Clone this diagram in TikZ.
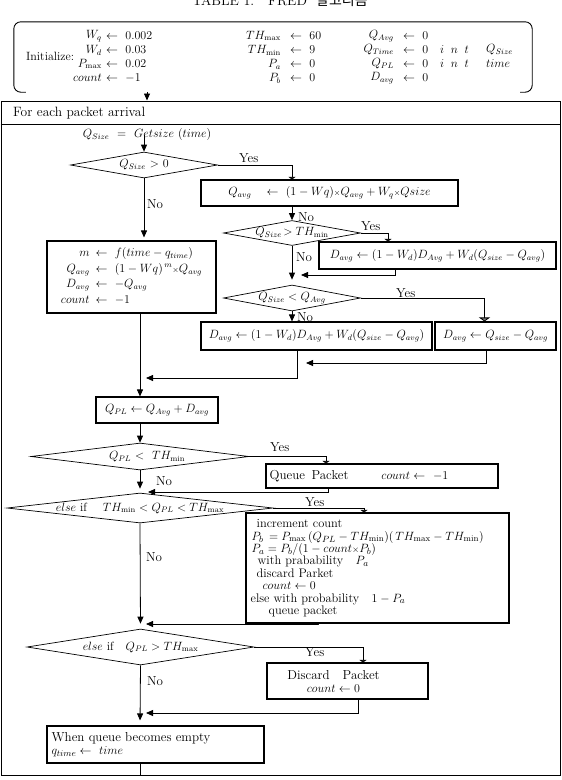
\documentclass[tikz,border=0pt]{standalone}
\usepackage{fontspec}
\newfontfamily\krfont{Noto Sans CJK KR}
\usetikzlibrary{shapes.geometric,arrows.meta}
\newcommand{\flowlabel}[3]{\node[lbl] (#1) at (#2) {#3};}
\newcommand{\smalltimes}{{\scriptstyle\times}}
\tikzset{
  box/.style={draw,line width=1.1pt,inner sep=2pt},
  decision/.style={draw,diamond,line width=0.7pt,inner sep=0pt},
  flow/.style={line width=0.8pt,-{Triangle[length=7pt,width=6pt]}},
  yesflow/.style={line width=0.8pt,-{Triangle[length=2.5pt,width=7pt]}},
  cell/.style={inner sep=0pt,anchor=west},
  lbl/.style={cell,font=\fontsize{13}{13}\selectfont},
}
\begin{document}
\begin{tikzpicture}[x=1pt,y=-1pt,font=\fontsize{12}{12}\selectfont]
\useasboundingbox (0,0) rectangle (562,780);
\node[anchor=base,font=\fontsize{14}{14}\selectfont] (title) at (280,5) {TABLE\ 1.\quad FRED\ \ {\krfont 알고리즘}};
\node[inner sep=0pt,minimum width=518pt,minimum height=70pt] (init) at (273,57) {};
\draw[line width=0.9pt,rounded corners=7pt] ([xshift=12pt]init.south west) -- (init.south west) -- (init.north west) -- (init.north east) -- (init.south east) -- ([xshift=-12pt]init.south east);
\node[cell] (initlbl) at (26,56) {Initialize:};
\foreach \nm/\val/\yy [count=\i] in {W_q/0.002/36,W_d/0.03/50,P_{\mathrm{max}}/0.02/64,count/-1/78}{
  \node[cell,anchor=east] (ca\i) at (102,\yy) {$\nm$};
  \node[cell] (cb\i) at (106,\yy) {$\leftarrow\ \val$};}
\foreach \nm/\val/\yy [count=\i] in {TH_{\mathrm{max}}/60/36,TH_{\mathrm{min}}/9/50,P_a/0/64,P_b/0/78}{
  \node[cell,anchor=east] (cc\i) at (281,\yy) {$\nm$};
  \node[cell] (cd\i) at (290,\yy) {$\leftarrow\ \val$};}
\foreach \nm/\val/\yy [count=\i] in {Q_{Avg}/0/36,Q_{Time}/0/50,Q_{PL}/0/64,D_{avg}/0/78}{
  \node[cell,anchor=east] (ce\i) at (394,\yy) {$\nm$};
  \node[cell] (cf\i) at (403,\yy) {$\leftarrow\ \val$};}
\foreach \nm/\yy [count=\i] in {Q_{Size}/50,time/64}{
  \node[cell] (cg\i) at (440,\yy) {$i\;\;n\;\;t$};
  \node[cell] (ch\i) at (486,\yy) {$\nm$};}
\node[draw,line width=1pt,minimum width=559pt,minimum height=674pt,inner sep=0pt] (outer) at (280.5,438) {};
\node[lbl,font=\fontsize{13.5}{13.5}\selectfont] (hdr) at (13,113) {For\ each\ packet\ arrival};
\draw[line width=0.8pt] (outer.west |- 0,124) -- (outer.east |- 0,124);
\node (gs) at (147,135) {$Q_{Size}$\ \ =\ \ $Getsize$\ ($time$)};
\coordinate (spine) at (140,0);
\node[decision,minimum width=147pt,minimum height=26pt] (d1) at (144,165) {};
\node (d1t) at (d1) {$Q_{Size}$\ $>$\ 0};
\node[box,minimum width=257pt,minimum height=26pt] (A) at (329.5,193) {$Q_{avg}\quad\leftarrow\ (1-Wq)\smalltimes Q_{avg}+W_q\smalltimes Qsize$};
\node[decision,minimum width=137pt,minimum height=25pt] (d2) at (292,233) {};
\node (d2t) at (d2) {$Q_{Size}\!>TH_{\mathrm{min}}$};
\node[box,minimum width=237pt,minimum height=27pt] (B) at (437.5,255.5) {$D_{avg}\leftarrow(1-W_d)D_{Avg}+W_d(Q_{size}-Q_{avg})$};
\node[box,minimum width=169pt,minimum height=72pt] (m) at (131.5,277) {\def\arraystretch{1.3}\begin{tabular}{@{}r@{\hspace{6pt}}l@{}}
  $m$ & $\leftarrow\ f(time-q_{time})$\\
  $Q_{avg}$ & $\leftarrow\ (1-Wq)^{\,m}\smalltimes Q_{avg}$\\
  $D_{avg}$ & $\leftarrow\ -Q_{avg}$\\
  $count$ & $\leftarrow\ -1$\end{tabular}};
\node[decision,minimum width=137pt,minimum height=26pt] (d3) at (292,298) {};
\node (d3t) at (d3) {$Q_{Size}<Q_{Avg}$};
\node[box,minimum width=231pt,minimum height=28pt] (C1) at (316.5,336) {$D_{avg}\leftarrow(1-W_d)D_{Avg}+W_d(Q_{size}-Q_{avg})$};
\node[box,minimum width=121pt,minimum height=28pt] (C2) at (495.5,336) {$D_{avg}\leftarrow Q_{size}-Q_{avg}$};
\node[box,minimum width=122pt,minimum height=26pt] (QPL) at (157,410) {$Q_{PL}\leftarrow Q_{Avg}+D_{avg}$};
\node[decision,minimum width=218pt,minimum height=27pt] (d4) at (140,456.5) {};
\node (d4t) at ([xshift=7pt]d4.center) {$Q_{PL}$\ $<$\ \ $TH_{\mathrm{min}}$};
\node[box,minimum width=232pt,minimum height=24pt] (Q) at (382,476) {};
\node[lbl] (Qt) at ([xshift=4pt]Q.west) {Queue\enspace Packet\hspace{33pt}$count\leftarrow\ -1$};
\node[decision,minimum width=266pt,minimum height=30pt] (d5) at (140,508) {};
\node (d5t) at (d5) {$else$ if\quad\ $TH_{\mathrm{min}}<Q_{PL}<TH_{\mathrm{max}}$};
\node[box,minimum width=263pt,minimum height=110pt] (D) at (377.5,568) {};
\node[lbl,anchor=north west,align=left,font=\fontsize{12.4}{12.4}\selectfont] (Dt) at ([xshift=5pt,yshift=-7pt]D.north west) {\hspace*{6pt}increment\ count\\
\hspace*{1pt}$P_b\,=P_{\mathrm{max}}\,(Q_{PL}-TH_{\mathrm{min}})(\,TH_{\mathrm{max}}-TH_{\mathrm{min}})$\\
\hspace*{1pt}$P_a=P_b/(1-count\smalltimes P_b)$\\
\hspace*{7pt}with\ prabability\quad $P_a$\\
\hspace*{6pt}discard Parket\\
\hspace*{12pt}$count\leftarrow 0$\\
else with probability\quad $1-P_a$\\
\hspace*{18pt}queue packet};
\node[decision,minimum width=227pt,minimum height=36pt] (d6) at (140.5,647) {};
\node (d6t) at (d6) {$else$ if\quad $Q_{PL}>TH_{\mathrm{max}}$};
\node[box,minimum width=161pt,minimum height=36pt] (E) at (347.5,681) {};
\node[align=center,font=\fontsize{13}{13}\selectfont] (Et) at ([xshift=-14pt]E.center) {Discard\quad Packet\\$count\leftarrow 0$};
\node[box,minimum width=217pt,minimum height=37pt] (F) at (155.5,744.5) {};
\node[lbl,align=left,font=\fontsize{13}{13}\selectfont] (Ft) at ([xshift=5pt]F.west) {When\ queue\ becomes\ empty\\$q_{time}\leftarrow\ time$};
\flowlabel{y1}{239,158}{Yes}
\flowlabel{n1}{147,204}{No}
\flowlabel{n2}{298,217}{No}
\flowlabel{y2}{361,226}{Yes}
\flowlabel{n3}{296,257}{No}
\flowlabel{y3}{396,293}{Yes}
\flowlabel{n4}{297,317}{No}
\flowlabel{y4}{270,447}{Yes}
\flowlabel{n5}{156,481}{No}
\flowlabel{y5}{305,502}{Yes}
\flowlabel{n6}{146,557}{No}
\flowlabel{y6}{305,652}{Yes}
\flowlabel{n7}{147,681}{No}
\draw[flow] (init.south -| gs) -- (outer.north -| gs);
\draw[flow] (gs.center -| d1) -- (d1.north);
\draw[yesflow] (d1.east) -| (d2 |- A.north);
\draw[flow,shorten >=3pt] (d1.south) -- (d1 |- m.north);
\draw[flow] (d2 |- A.south) -- (d2.north);
\draw[yesflow] (d2.east) -| ([xshift=-49.5pt]B.north);
\draw[flow,shorten >=5pt] (d2.south) -- (d3.north);
\coordinate (jB) at (301,275);
\draw[flow] ([xshift=-42.5pt]B.south) |- (jB);
\draw[line width=0.8pt,-{Triangle[length=4pt,width=11pt,fill=gray]}] (d3.east) -| ([xshift=-11pt]C2.north);
\draw[flow] (d3.south) -- (d3 |- C1.north);
\coordinate (jC2) at (306,363);
\draw[flow] ([xshift=-9.5pt]C2.south) |- (jC2);
\coordinate (jC1) at (146,378);
\draw[flow] ([xshift=-19.5pt]C1.south) |- (jC1);
\draw[flow] (m.south -| spine) -- (QPL.north -| spine);
\draw[flow] (QPL.south -| spine) -- (d4.north);
\draw[yesflow] (d4.east) -| ([xshift=-56pt]Q.north);
\draw[flow,shorten >=4pt] (d4.south) -- (d5.north);
\coordinate (jQ) at (148,492);
\draw[flow] ([xshift=-54pt]Q.south) |- (jQ);
\draw[yesflow] (d5.east) -| ([xshift=-13.5pt]D.north);
\draw[flow,shorten >=5pt] (d5.south) -- (d6.north);
\coordinate (jD) at (146,624);
\draw[flow] ([xshift=-59.5pt]D.south) |- (jD);
\draw[yesflow] (d6.east) -| ([xshift=15.5pt]E.north);
\draw[flow,shorten >=5pt] (d6.south) -- (F.north -| spine);
\coordinate (jE) at (146,713);
\draw[flow] ([xshift=10.5pt]E.south) |- (jE);
\draw[line width=0.8pt] (F.south -| spine) -- (outer.south -| spine);
\end{tikzpicture}
\end{document}
